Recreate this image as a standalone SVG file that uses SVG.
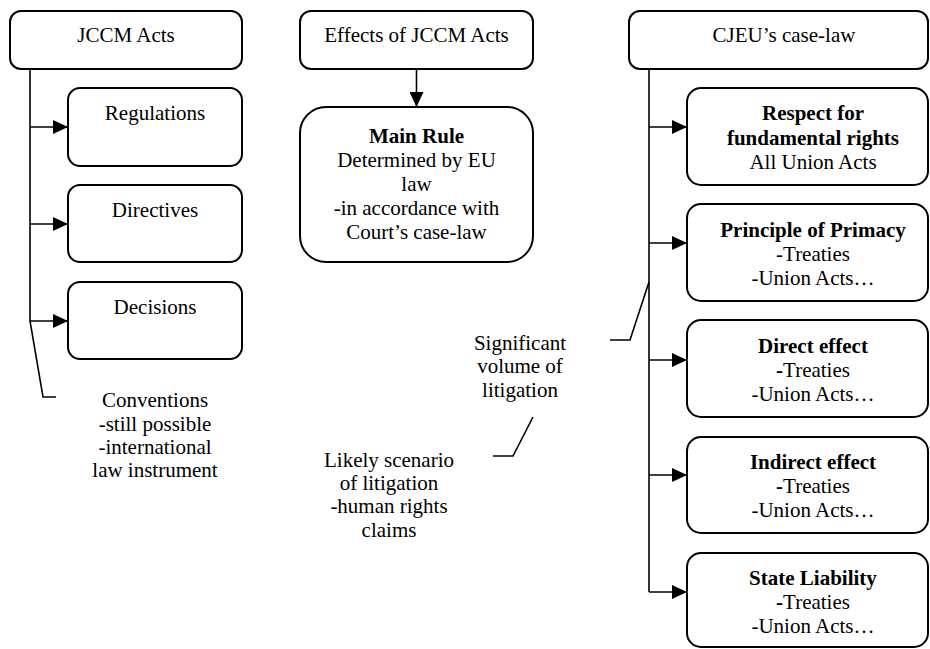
<svg xmlns="http://www.w3.org/2000/svg" width="930" height="649" viewBox="0 0 930 649">
<style>
.box{fill:#fff;stroke:#000;stroke-width:2}
.ln{fill:none;stroke:#000;stroke-width:1.6}
.arr{fill:none;stroke:#000;stroke-width:1.6;marker-end:url(#ah)}
text{font-family:"Liberation Serif","Times New Roman",serif;font-size:21px;fill:#000;text-anchor:middle}
.b{font-weight:bold}
</style>
<defs>
<marker id="ah" markerUnits="userSpaceOnUse" markerWidth="15" markerHeight="14" refX="15" refY="7" orient="auto">
<path d="M0,0 L15,7 L0,14 z" fill="#000"/>
</marker>
</defs>
<rect width="930" height="649" fill="#fff"/>
<g id="connectors">
<path class="ln" d="M30 69 L30 321 L43 397 L56 397"/>
<line class="arr" x1="30" y1="127" x2="68" y2="127"/>
<line class="arr" x1="30" y1="224" x2="68" y2="224"/>
<line class="arr" x1="30" y1="321" x2="68" y2="321"/>
<line class="arr" x1="416.5" y1="69" x2="416.5" y2="107"/>
<path class="ln" d="M649 69 L649 592"/>
<line class="arr" x1="649" y1="127" x2="687" y2="127"/>
<line class="arr" x1="649" y1="243" x2="687" y2="243"/>
<line class="arr" x1="649" y1="360" x2="687" y2="360"/>
<line class="arr" x1="649" y1="475" x2="687" y2="475"/>
<line class="arr" x1="649" y1="592" x2="687" y2="592"/>
<path class="ln" d="M649 282 L630 340 L610 340"/>
<path class="ln" d="M533 417 L513 456 L493 456"/>
</g>
<g id="jccm-acts">
<rect class="box" x="10" y="11" width="232" height="58" rx="11"/>
<text x="126" y="42">JCCM Acts</text>
</g>
<g id="regulations">
<rect class="box" x="68" y="88" width="174" height="78" rx="12"/>
<text x="155" y="120">Regulations</text>
</g>
<g id="directives">
<rect class="box" x="68" y="185" width="174" height="77" rx="12"/>
<text x="155" y="217">Directives</text>
</g>
<g id="decisions">
<rect class="box" x="68" y="282" width="174" height="77" rx="12"/>
<text x="155" y="314">Decisions</text>
</g>
<g id="conventions">
<text x="155" y="407">Conventions</text>
<text x="155" y="431">-still possible</text>
<text x="155" y="454">-international</text>
<text x="155" y="477">law instrument</text>
</g>
<g id="effects">
<rect class="box" x="300" y="11" width="233" height="58" rx="11"/>
<text x="416.5" y="42">Effects of JCCM Acts</text>
</g>
<g id="main-rule">
<rect class="box" x="300" y="107" width="233" height="155" rx="26"/>
<text x="416.5" y="143" class="b">Main Rule</text>
<text x="416.5" y="167">Determined by EU</text>
<text x="416.5" y="191">law</text>
<text x="416.5" y="215">-in accordance with</text>
<text x="416.5" y="239">Court’s case-law</text>
</g>
<g id="significant">
<text x="520" y="350">Significant</text>
<text x="520" y="373">volume of</text>
<text x="520" y="397">litigation</text>
</g>
<g id="likely">
<text x="389" y="467">Likely scenario</text>
<text x="389" y="490">of litigation</text>
<text x="389" y="513">-human rights</text>
<text x="389" y="537">claims</text>
</g>
<g id="cjeu">
<rect class="box" x="629" y="11" width="299" height="58" rx="11"/>
<text x="784" y="42">CJEU’s case-law</text>
</g>
<g id="fundamental-rights">
<rect class="box" x="687" y="88" width="241" height="97" rx="14"/>
<text x="813" y="120" class="b">Respect for</text>
<text x="813" y="145" class="b">fundamental rights</text>
<text x="813" y="169">All Union Acts</text>
</g>
<g id="primacy">
<rect class="box" x="687" y="204" width="241" height="97" rx="14"/>
<text x="813" y="237" class="b">Principle of Primacy</text>
<text x="813" y="261">-Treaties</text>
<text x="813" y="285">-Union Acts…</text>
</g>
<g id="direct-effect">
<rect class="box" x="687" y="320" width="241" height="97" rx="14"/>
<text x="813" y="353" class="b">Direct effect</text>
<text x="813" y="377"><tspan class="b">-</tspan>Treaties</text>
<text x="813" y="401">-Union Acts…</text>
</g>
<g id="indirect-effect">
<rect class="box" x="687" y="437" width="241" height="96" rx="14"/>
<text x="813" y="469" class="b">Indirect effect</text>
<text x="813" y="493"><tspan class="b">-</tspan>Treaties</text>
<text x="813" y="517">-Union Acts…</text>
</g>
<g id="state-liability">
<rect class="box" x="687" y="553" width="241" height="94" rx="14"/>
<text x="813" y="585" class="b">State Liability</text>
<text x="813" y="609"><tspan class="b">-</tspan>Treaties</text>
<text x="813" y="633">-Union Acts…</text>
</g>
</svg>
